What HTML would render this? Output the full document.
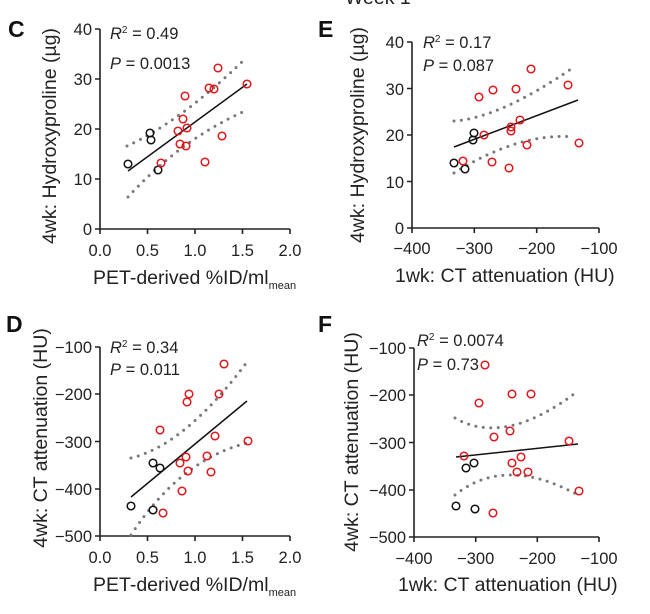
<!DOCTYPE html>
<html><head><style>
body{margin:0;background:#fff}
svg{display:block;font-family:"Liberation Sans",sans-serif}
.ax{stroke:#222;stroke-width:1.6;fill:none}
.t{font-size:16.5px;fill:#222}
.lb{font-size:19.5px;fill:#222}
.s{font-size:16.5px;fill:#222}
.r{fill:none;stroke:#e0181c;stroke-width:1.5}
.k{fill:none;stroke:#111;stroke-width:1.5}
.fit{stroke:#111;stroke-width:1.5;fill:none}
.dot{stroke:#777;stroke-width:3;fill:none;stroke-dasharray:0 7.5;stroke-linecap:round}
.L{font-size:23px;font-weight:bold;fill:#111}
</style></head><body>
<svg width="650" height="614" viewBox="0 0 650 614">
<text x="345" y="4" class="lb">Week 1</text>
<!-- Panel C -->
<text x="8" y="37" class="L">C</text>
<path class="ax" d="M100,29V229H290 M95,29H100 M95,79H100 M95,129H100 M95,179H100 M95,229H100 M100,229v5 M147.5,229v5 M195,229v5 M242.5,229v5 M290,229v5"/>
<g class="t" text-anchor="end"><text x="92" y="35">40</text><text x="92" y="85">30</text><text x="92" y="135">20</text><text x="92" y="185">10</text><text x="92" y="235">0</text></g>
<g class="t" text-anchor="middle"><text x="100" y="256">0.0</text><text x="147.5" y="256">0.5</text><text x="195" y="256">1.0</text><text x="242.5" y="256">1.5</text><text x="290" y="256">2.0</text></g>
<text x="93" y="284" class="lb">PET-derived %ID/ml<tspan font-size="11" dy="5">mean</tspan></text>
<text transform="translate(56,136) rotate(-90)" class="lb" text-anchor="middle">4wk: Hydroxyproline (µg)</text>
<text x="110" y="39" class="s"><tspan font-style="italic">R</tspan><tspan font-size="10" dy="-6">2</tspan><tspan dy="6"> = 0.49</tspan></text>
<text x="110" y="69" class="s"><tspan font-style="italic">P</tspan> = 0.0013</text>
<path class="dot" d="M127,146 Q180,122 245,59"/>
<path class="dot" d="M128,197 Q180,140 245,111"/>
<path class="fit" d="M128,171L247,84"/>
<g class="k"><circle cx="128" cy="164" r="3.8"/><circle cx="150" cy="133" r="3.8"/><circle cx="151" cy="140" r="3.8"/><circle cx="158" cy="170" r="3.8"/></g>
<g class="r"><circle cx="161" cy="163" r="3.8"/><circle cx="178" cy="131" r="3.8"/><circle cx="180" cy="144" r="3.8"/><circle cx="185" cy="96" r="3.8"/><circle cx="183" cy="119" r="3.8"/><circle cx="187" cy="128" r="3.8"/><circle cx="186" cy="146" r="3.8"/><circle cx="205" cy="162" r="3.8"/><circle cx="209" cy="88" r="3.8"/><circle cx="214" cy="89" r="3.8"/><circle cx="218" cy="68" r="3.8"/><circle cx="222" cy="136" r="3.8"/><circle cx="247" cy="84" r="3.8"/></g>

<!-- Panel E -->
<text x="318" y="37" class="L">E</text>
<path class="ax" d="M412,42V228H599 M407,42H412 M407,88.5H412 M407,135H412 M407,181.5H412 M407,228H412 M412,228v5 M474.3,228v5 M536.7,228v5 M599,228v5"/>
<g class="t" text-anchor="end"><text x="404" y="48">40</text><text x="404" y="95">30</text><text x="404" y="141">20</text><text x="404" y="188">10</text><text x="404" y="234">0</text></g>
<g class="t" text-anchor="middle"><text x="412" y="254">−400</text><text x="474.3" y="254">−300</text><text x="536.7" y="254">−200</text><text x="599" y="254">−100</text></g>
<text x="395" y="282" class="lb">1wk: CT attenuation (HU)</text>
<text transform="translate(364,135) rotate(-90)" class="lb" text-anchor="middle">4wk: Hydroxyproline (µg)</text>
<text x="423" y="48" class="s"><tspan font-style="italic">R</tspan><tspan font-size="10" dy="-6">2</tspan><tspan dy="6"> = 0.17</tspan></text>
<text x="423" y="71" class="s"><tspan font-style="italic">P</tspan> = 0.087</text>
<path class="dot" d="M454,121 Q500,118 574,67"/>
<path class="dot" d="M454,173 Q520,132 574,137"/>
<path class="fit" d="M454,147L578,100"/>
<g class="k"><circle cx="454" cy="163" r="3.8"/><circle cx="465" cy="169" r="3.8"/><circle cx="474" cy="133" r="3.8"/><circle cx="473" cy="140" r="3.8"/></g>
<g class="r"><circle cx="463" cy="161" r="3.8"/><circle cx="479" cy="97" r="3.8"/><circle cx="484" cy="135" r="3.8"/><circle cx="493" cy="90" r="3.8"/><circle cx="492" cy="162" r="3.8"/><circle cx="509" cy="168" r="3.8"/><circle cx="516" cy="89" r="3.8"/><circle cx="511" cy="127" r="3.8"/><circle cx="511" cy="131" r="3.8"/><circle cx="520" cy="120" r="3.8"/><circle cx="527" cy="145" r="3.8"/><circle cx="531" cy="69" r="3.8"/><circle cx="568" cy="85" r="3.8"/><circle cx="579" cy="143" r="3.8"/></g>

<!-- Panel D -->
<text x="6" y="332" class="L">D</text>
<path class="ax" d="M100,347V536H290 M95,347H100 M95,394H100 M95,441.5H100 M95,489H100 M95,536H100 M100,536v5 M147.5,536v5 M195,536v5 M242.5,536v5 M290,536v5"/>
<g class="t" text-anchor="end"><text x="92" y="353">−100</text><text x="92" y="400">−200</text><text x="92" y="448">−300</text><text x="92" y="495">−400</text><text x="92" y="542">−500</text></g>
<g class="t" text-anchor="middle"><text x="100" y="563">0.0</text><text x="147.5" y="563">0.5</text><text x="195" y="563">1.0</text><text x="242.5" y="563">1.5</text><text x="290" y="563">2.0</text></g>
<text x="93" y="591" class="lb">PET-derived %ID/ml<tspan font-size="11" dy="5">mean</tspan></text>
<text transform="translate(47,438) rotate(-90)" class="lb" text-anchor="middle">4wk: CT attenuation (HU)</text>
<text x="110" y="353" class="s"><tspan font-style="italic">R</tspan><tspan font-size="10" dy="-6">2</tspan><tspan dy="6"> = 0.34</tspan></text>
<text x="110" y="375" class="s"><tspan font-style="italic">P</tspan> = 0.011</text>
<path class="dot" d="M131,458 Q185,445 247,362"/>
<path class="dot" d="M131,535 Q180,460 247,443"/>
<path class="fit" d="M131,497L247,401"/>
<g class="k"><circle cx="131" cy="506" r="3.8"/><circle cx="153" cy="463" r="3.8"/><circle cx="160" cy="468" r="3.8"/><circle cx="153" cy="510" r="3.8"/></g>
<g class="r"><circle cx="160" cy="430" r="3.8"/><circle cx="163" cy="513" r="3.8"/><circle cx="180" cy="463" r="3.8"/><circle cx="182" cy="491" r="3.8"/><circle cx="186" cy="457" r="3.8"/><circle cx="188" cy="471" r="3.8"/><circle cx="187" cy="402" r="3.8"/><circle cx="189" cy="394" r="3.8"/><circle cx="207" cy="456" r="3.8"/><circle cx="211" cy="472" r="3.8"/><circle cx="215" cy="436" r="3.8"/><circle cx="219" cy="394" r="3.8"/><circle cx="224" cy="364" r="3.8"/><circle cx="248" cy="441" r="3.8"/></g>

<!-- Panel F -->
<text x="318" y="332" class="L">F</text>
<path class="ax" d="M414,348V537H599 M409,348H414 M409,395H414 M409,442.5H414 M409,490H414 M409,537H414 M414,537v5 M475.7,537v5 M537.3,537v5 M599,537v5"/>
<g class="t" text-anchor="end"><text x="406" y="354">−100</text><text x="406" y="401">−200</text><text x="406" y="449">−300</text><text x="406" y="496">−400</text><text x="406" y="543">−500</text></g>
<g class="t" text-anchor="middle"><text x="414" y="564">−400</text><text x="475.7" y="564">−300</text><text x="537.3" y="564">−200</text><text x="599" y="564">−100</text></g>
<text x="398" y="591" class="lb">1wk: CT attenuation (HU)</text>
<text transform="translate(358,442) rotate(-90)" class="lb" text-anchor="middle">4wk: CT attenuation (HU)</text>
<text x="417" y="346" class="s"><tspan font-style="italic">R</tspan><tspan font-size="10" dy="-6">2</tspan><tspan dy="6"> = 0.0074</tspan></text>
<text x="417" y="370" class="s"><tspan font-style="italic">P</tspan> = 0.73</text>
<path class="dot" d="M455,418 Q505,447 578,391"/>
<path class="dot" d="M455,495 Q505,455 578,495"/>
<path class="fit" d="M456,457L578,444"/>
<g class="k"><circle cx="456" cy="506" r="3.8"/><circle cx="466" cy="468" r="3.8"/><circle cx="474" cy="463" r="3.8"/><circle cx="475" cy="509" r="3.8"/></g>
<g class="r"><circle cx="464" cy="456" r="3.8"/><circle cx="479" cy="403" r="3.8"/><circle cx="485" cy="365" r="3.8"/><circle cx="494" cy="437" r="3.8"/><circle cx="493" cy="513" r="3.8"/><circle cx="512" cy="394" r="3.8"/><circle cx="510" cy="431" r="3.8"/><circle cx="512" cy="463" r="3.8"/><circle cx="517" cy="472" r="3.8"/><circle cx="521" cy="457" r="3.8"/><circle cx="528" cy="472" r="3.8"/><circle cx="531" cy="394" r="3.8"/><circle cx="569" cy="441" r="3.8"/><circle cx="579" cy="491" r="3.8"/></g>
</svg>
</body></html>
